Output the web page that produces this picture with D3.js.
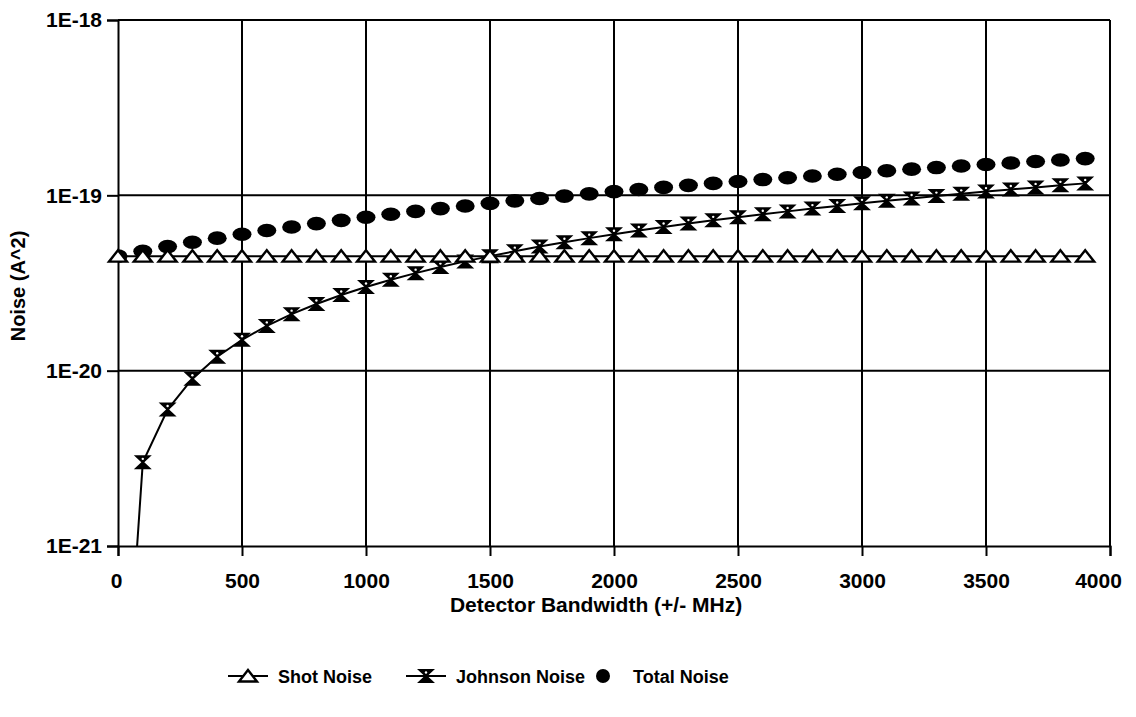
<!DOCTYPE html>
<html>
<head>
  <meta charset="utf-8">
  <script src="https://d3js.org/d3.v7.min.js"></script>
  <style>
    body { margin: 0; background: #fff; }
    text { font-family: "Liberation Sans", Arial, sans-serif; font-weight: bold; fill: #000; }
  </style>
</head>
<body>
<div id="chart"></div>
<script>
  // bandwidth in +/- MHz
  var bandwidth = [0, 100, 200, 300, 400, 500, 600, 700, 800, 900,
                   1000, 1100, 1200, 1300, 1400, 1500, 1600, 1700, 1800, 1900,
                   2000, 2100, 2200, 2300, 2400, 2500, 2600, 2700, 2800, 2900,
                   3000, 3100, 3200, 3300, 3400, 3500, 3600, 3700, 3800, 3900];

  var shotNoise = [4.5e-20, 4.5e-20, 4.5e-20, 4.5e-20, 4.5e-20, 4.5e-20, 4.5e-20, 4.5e-20, 4.5e-20, 4.5e-20,
                   4.5e-20, 4.5e-20, 4.5e-20, 4.5e-20, 4.5e-20, 4.5e-20, 4.5e-20, 4.5e-20, 4.5e-20, 4.5e-20,
                   4.5e-20, 4.5e-20, 4.5e-20, 4.5e-20, 4.5e-20, 4.5e-20, 4.5e-20, 4.5e-20, 4.5e-20, 4.5e-20,
                   4.5e-20, 4.5e-20, 4.5e-20, 4.5e-20, 4.5e-20, 4.5e-20, 4.5e-20, 4.5e-20, 4.5e-20, 4.5e-20];

  // first point sits far below the axis floor, only the line shows
  var johnsonNoise = [2.5e-23, 3.0e-21, 6.0e-21, 9.0e-21, 1.2e-20, 1.5e-20, 1.8e-20, 2.1e-20, 2.4e-20, 2.7e-20,
                      3.0e-20, 3.3e-20, 3.6e-20, 3.9e-20, 4.2e-20, 4.5e-20, 4.8e-20, 5.1e-20, 5.4e-20, 5.7e-20,
                      6.0e-20, 6.3e-20, 6.6e-20, 6.9e-20, 7.2e-20, 7.5e-20, 7.8e-20, 8.1e-20, 8.4e-20, 8.7e-20,
                      9.0e-20, 9.3e-20, 9.6e-20, 9.9e-20, 1.02e-19, 1.05e-19, 1.08e-19, 1.11e-19, 1.14e-19, 1.17e-19];

  var totalNoise = [4.5e-20, 4.8e-20, 5.1e-20, 5.4e-20, 5.7e-20, 6.0e-20, 6.3e-20, 6.6e-20, 6.9e-20, 7.2e-20,
                    7.5e-20, 7.8e-20, 8.1e-20, 8.4e-20, 8.7e-20, 9.0e-20, 9.3e-20, 9.6e-20, 9.9e-20, 1.02e-19,
                    1.05e-19, 1.08e-19, 1.11e-19, 1.14e-19, 1.17e-19, 1.2e-19, 1.23e-19, 1.26e-19, 1.29e-19, 1.32e-19,
                    1.35e-19, 1.38e-19, 1.41e-19, 1.44e-19, 1.47e-19, 1.5e-19, 1.53e-19, 1.56e-19, 1.59e-19, 1.62e-19];

  var xTicks = [0, 500, 1000, 1500, 2000, 2500, 3000, 3500, 4000];
  var yTicks = [1e-21, 1e-20, 1e-19, 1e-18];
  var yTickLabels = ["1E-21", "1E-20", "1E-19", "1E-18"];
  var seriesNames = ["Shot Noise", "Johnson Noise", "Total Noise"];

  var W = 1136, H = 717;
  var margin = {top: 20, right: 26, bottom: 171, left: 118};
  var width = W - margin.left - margin.right,
      height = H - margin.top - margin.bottom;

  var svg = d3.select("#chart").append("svg")
      .attr("width", W).attr("height", H);

  var g = svg.append("g")
      .attr("transform", "translate(" + margin.left + "," + margin.top + ")");

  var x = d3.scaleLinear().domain([0, 4000]).range([0, width]);
  var y = d3.scaleLog().domain([1e-21, 1e-18]).range([height, 0]);

  //grid lines
  g.selectAll(".vgrid").data(xTicks.slice(1)).enter().append("line")
    .attr("x1", d => x(d)).attr("x2", d => x(d))
    .attr("y1", 0).attr("y2", height)
    .attr("stroke", "#000").attr("stroke-width", 2);
  g.selectAll(".hgrid").data(yTicks.slice(1)).enter().append("line")
    .attr("x1", 0).attr("x2", width)
    .attr("y1", d => y(d)).attr("y2", d => y(d))
    .attr("stroke", "#000").attr("stroke-width", 2);

  //axes
  var xAxis = d3.axisBottom(x).tickValues(xTicks).tickSize(10).tickPadding(17)
      .tickFormat(d3.format("d"));
  var yAxis = d3.axisLeft(y).tickValues(yTicks).tickSize(11).tickPadding(5)
      .tickFormat((d, i) => yTickLabels[i]);

  var gx = g.append("g").attr("transform", "translate(0," + height + ")").call(xAxis);
  var gy = g.append("g").call(yAxis);
  [gx, gy].forEach(function(a) {
    a.select(".domain").attr("stroke", "#000").attr("stroke-width", 2);
    a.selectAll(".tick line").attr("stroke", "#000").attr("stroke-width", 2);
    a.selectAll("text").style("font-size", "21px")
      .style("font-family", "'Liberation Sans', Arial, sans-serif").style("font-weight", "bold");
  });
  gx.selectAll(".tick text").attr("dx", (d) => d === 4000 ? -12 : (d === 0 ? -2 : 0));

  // axis titles
  svg.append("text")
    .attr("x", 596).attr("y", 612)
    .attr("text-anchor", "middle").style("font-size", "21px")
    .text("Detector Bandwidth (+/- MHz)");
  svg.append("text")
    .attr("transform", "translate(25," + 286 + ") rotate(-90)")
    .attr("text-anchor", "middle").style("font-size", "20px")
    .text("Noise (A^2)");

  var plot = g.append("g");
  var clipId = "plotclip";
  svg.append("defs").append("clipPath").attr("id", clipId)
    .append("rect").attr("width", width).attr("height", height);

  var rows = bandwidth.map((b, i) => ({b: b, shot: shotNoise[i], john: johnsonNoise[i], total: totalNoise[i]}));

  // marker shapes
  var hourglass = "M-9,-7H9L1.5,0L9,7H-9L-1.5,0Z";
  var triangle = "M0,-6L9,5.5H-9Z";

  function drawTotal(sel, cx, cy) {
    sel.append("ellipse").attr("cx", cx).attr("cy", cy).attr("rx", 9.5).attr("ry", 6.8).attr("fill", "#000");
  }
  function drawJohnson(sel, cx, cy) {
    sel.append("path").attr("d", hourglass).attr("transform", "translate(" + cx + "," + cy + ")")
      .attr("fill", "#000");
    sel.append("circle").attr("cx", cx).attr("cy", cy - 3.5).attr("r", 1.2).attr("fill", "#fff");
  }
  function drawShot(sel, cx, cy) {
    sel.append("path").attr("d", triangle).attr("transform", "translate(" + cx + "," + cy + ")")
      .attr("fill", "#fff").attr("stroke", "#000").attr("stroke-width", 2.4);
  }

  var clipped = plot.append("g").attr("clip-path", "url(#" + clipId + ")");

  // total noise, markers only
  rows.forEach(r => drawTotal(clipped, x(r.b), y(r.total)));

  // johnson noise line + markers
  clipped.append("path").datum(rows)
    .attr("fill", "none").attr("stroke", "#000").attr("stroke-width", 2)
    .attr("d", d3.line().x(d => x(d.b)).y(d => y(d.john)));
  rows.filter(r => r.john >= 1e-21).forEach(r => drawJohnson(clipped, x(r.b), y(r.john)));

  // shot noise line + markers
  clipped.append("path").datum(rows)
    .attr("fill", "none").attr("stroke", "#000").attr("stroke-width", 2)
    .attr("d", d3.line().x(d => x(d.b)).y(d => y(d.shot)));
  rows.forEach(r => drawShot(plot, x(r.b), y(r.shot)));

  //legend
  var leg = svg.append("g").attr("transform", "translate(0,676)");
  var items = [
    {x: 228, kind: "shot"},
    {x: 406, kind: "john"},
    {x: 583, kind: "total"}
  ];
  items.forEach(function(it, i) {
    var lg = leg.append("g");
    if (it.kind !== "total") {
      lg.append("line").attr("x1", it.x).attr("x2", it.x + 40).attr("y1", 0).attr("y2", 0)
        .attr("stroke", "#000").attr("stroke-width", 2);
    }
    if (it.kind === "shot") drawShot(lg, it.x + 20, 0);
    if (it.kind === "john") drawJohnson(lg, it.x + 20, 0);
    if (it.kind === "total") lg.append("circle").attr("cx", it.x + 20).attr("cy", 0).attr("r", 7).attr("fill", "#000");
    lg.append("text").attr("x", it.x + 50).attr("y", 7)
      .style("font-size", "18px").text(seriesNames[i]);
  });
</script>
</body>
</html>
